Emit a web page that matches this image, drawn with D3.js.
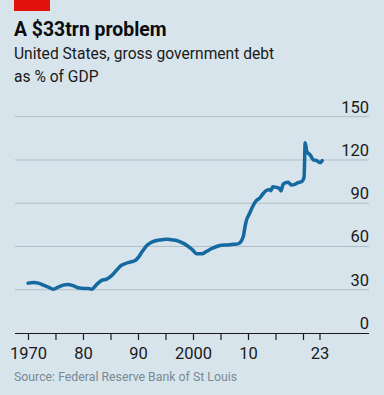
<!DOCTYPE html>
<html lang="en">
<head>
  <meta charset="utf-8">
  <title>A $33trn problem</title>
  <script src="https://d3js.org/d3.v7.js"></script>
  <style>
    html, body { margin: 0; padding: 0; background: #d7e4ec; }
    text { font-family: "Liberation Sans Narrow", Roboto, "Noto Sans", sans-serif; }
  </style>
</head>
<body>
  <div id="my_dataviz"></div>

  <script>
    // Gross federal debt as % of GDP (decimal years)
    var years = [1970.0, 1971.0, 1971.9, 1972.8, 1973.7, 1974.6, 1975.5, 1976.4, 1977.3, 1978.2,
                 1979.1, 1980.1, 1981.0, 1981.6, 1982.5, 1983.4, 1984.3, 1985.2, 1986.1, 1987.0,
                 1987.6, 1988.5, 1989.5, 1990.1, 1990.7, 1991.6, 1992.5, 1993.4, 1994.3, 1995.2,
                 1996.1, 1997.0, 1997.9, 1998.9, 1999.8, 2000.7, 2001.6, 2002.5, 2003.4, 2004.3,
                 2005.2, 2006.1, 2007.0, 2008.2, 2008.8, 2009.2, 2009.4, 2009.7, 2010.3, 2010.9,
                 2011.5, 2012.1, 2012.7, 2013.3, 2013.9, 2014.2, 2014.5, 2015.1, 2015.7, 2016.0,
                 2016.4, 2017.3, 2017.9, 2018.5, 2019.1, 2019.7, 2020.0, 2020.2, 2020.4, 2020.7,
                 2021.3, 2021.9, 2022.5, 2023.1, 2023.5];
    var debt  = [34.6, 35.1, 34.6, 33.2, 31.8, 30.4, 31.8, 33.2, 33.7, 32.8,
                 31.4, 30.9, 30.9, 30.4, 33.7, 36.5, 37.4, 39.8, 43.5, 47.0,
                 48.0, 49.1, 50.3, 52.6, 56.1, 60.7, 63.0, 64.2, 64.6, 65.1,
                 64.6, 64.2, 62.8, 60.7, 58.1, 54.9, 54.9, 56.7, 58.6, 60.0,
                 60.9, 61.0, 61.4, 61.8, 63.9, 67.8, 72.4, 77.9, 83.0, 88.1,
                 91.8, 93.4, 96.4, 98.7, 99.6, 98.7, 101.5, 101.0, 100.3, 98.5,
                 103.3, 104.5, 102.6, 103.1, 104.3, 104.9, 106.1, 108.4, 132.0, 125.8,
                 123.5, 120.0, 119.5, 118.1, 119.5];

    var xTicks = [1970, 1975, 1980, 1985, 1990, 1995, 2000, 2005, 2010, 2015, 2020, 2023];
    var xLabels = {1970: "1970", 1980: "80", 1990: "90", 2000: "2000", 2010: "10", 2023: "23"};
    var yTicks = [0, 30, 60, 90, 120, 150];

    var W = 384, H = 395;

    var svg = d3.select("#my_dataviz")
      .append("svg")
      .attr("width", W)
      .attr("height", H);

    svg.append("rect").attr("width", W).attr("height", H).attr("fill", "#d7e4ec");

    // Red tag
    svg.append("rect")
      .attr("x", 14).attr("y", 0)
      .attr("width", 36).attr("height", 11)
      .attr("fill", "#e3120b");

    // Titles
    svg.append("text")
      .attr("x", 14).attr("y", 36)
      .attr("font-size", 19.4).attr("font-weight", "bold")
      .style("font-family", "Roboto, 'Noto Sans', sans-serif")
      .attr("fill", "#0c0c0c")
      .text("A $33trn problem");

    svg.append("text")
      .attr("x", 14).attr("y", 59)
      .attr("font-size", 15.6)
      .style("font-family", "Roboto, 'Noto Sans', sans-serif")
      .attr("fill", "#1a1a1a")
      .text("United States, gross government debt");

    svg.append("text")
      .attr("x", 14).attr("y", 81.5)
      .attr("font-size", 15.6)
      .style("font-family", "Roboto, 'Noto Sans', sans-serif")
      .attr("fill", "#1a1a1a")
      .text("as % of GDP");

    // Scales
    var x = d3.scaleLinear()
      .domain([1967.64, 2032])
      .range([15, 369]);

    var y = d3.scaleLinear()
      .domain([0, 150])
      .range([333, 116.7]);

    // Gridlines + y labels
    var grid = svg.append("g");
    grid.selectAll("line")
      .data(yTicks.filter(function(d) { return d > 0; }))
      .enter().append("line")
      .attr("x1", 15).attr("x2", 369)
      .attr("y1", function(d) { return y(d); })
      .attr("y2", function(d) { return y(d); })
      .attr("stroke", "#b1bec7")
      .attr("stroke-width", 1);

    grid.selectAll("text")
      .data(yTicks)
      .enter().append("text")
      .attr("x", 369)
      .attr("y", function(d) { return y(d) - 4; })
      .attr("text-anchor", "end")
      .attr("font-size", 16.5)
      .attr("fill", "#1a1a1a")
      .text(function(d) { return d; });

    // X axis
    var xAxis = svg.append("g")
      .attr("transform", "translate(0," + y(0) + ")")
      .call(d3.axisBottom(x)
        .tickValues(xTicks)
        .tickSize(7)
        .tickFormat(function(d) { return xLabels[d] || ""; }));

    xAxis.select(".domain")
      .attr("d", "M15,0.5H369")
      .attr("stroke", "#1a1a1a")
      .attr("stroke-width", 1.2);
    xAxis.selectAll(".tick line").attr("stroke", "#1a1a1a").attr("stroke-width", 1.2);
    xAxis.selectAll(".tick text")
      .attr("y", 11)
      .attr("dy", "0.9em")
      .attr("font-size", 16.5)
      .attr("fill", "#1a1a1a");

    // Line
    var line = d3.line()
      .x(function(d, i) { return x(years[i]); })
      .y(function(d) { return y(d); })
      .curve(d3.curveMonotoneX);

    svg.append("path")
      .datum(debt)
      .attr("fill", "none")
      .attr("stroke", "#1469a0")
      .attr("stroke-width", 3.5)
      .attr("stroke-linejoin", "round")
      .attr("stroke-linecap", "round")
      .attr("d", line);

    // Source
    svg.append("text")
      .attr("x", 14).attr("y", 381)
      .attr("font-size", 12.3)
      .attr("fill", "#7a8993")
      .text("Source: Federal Reserve Bank of St Louis");
  </script>
</body>
</html>
